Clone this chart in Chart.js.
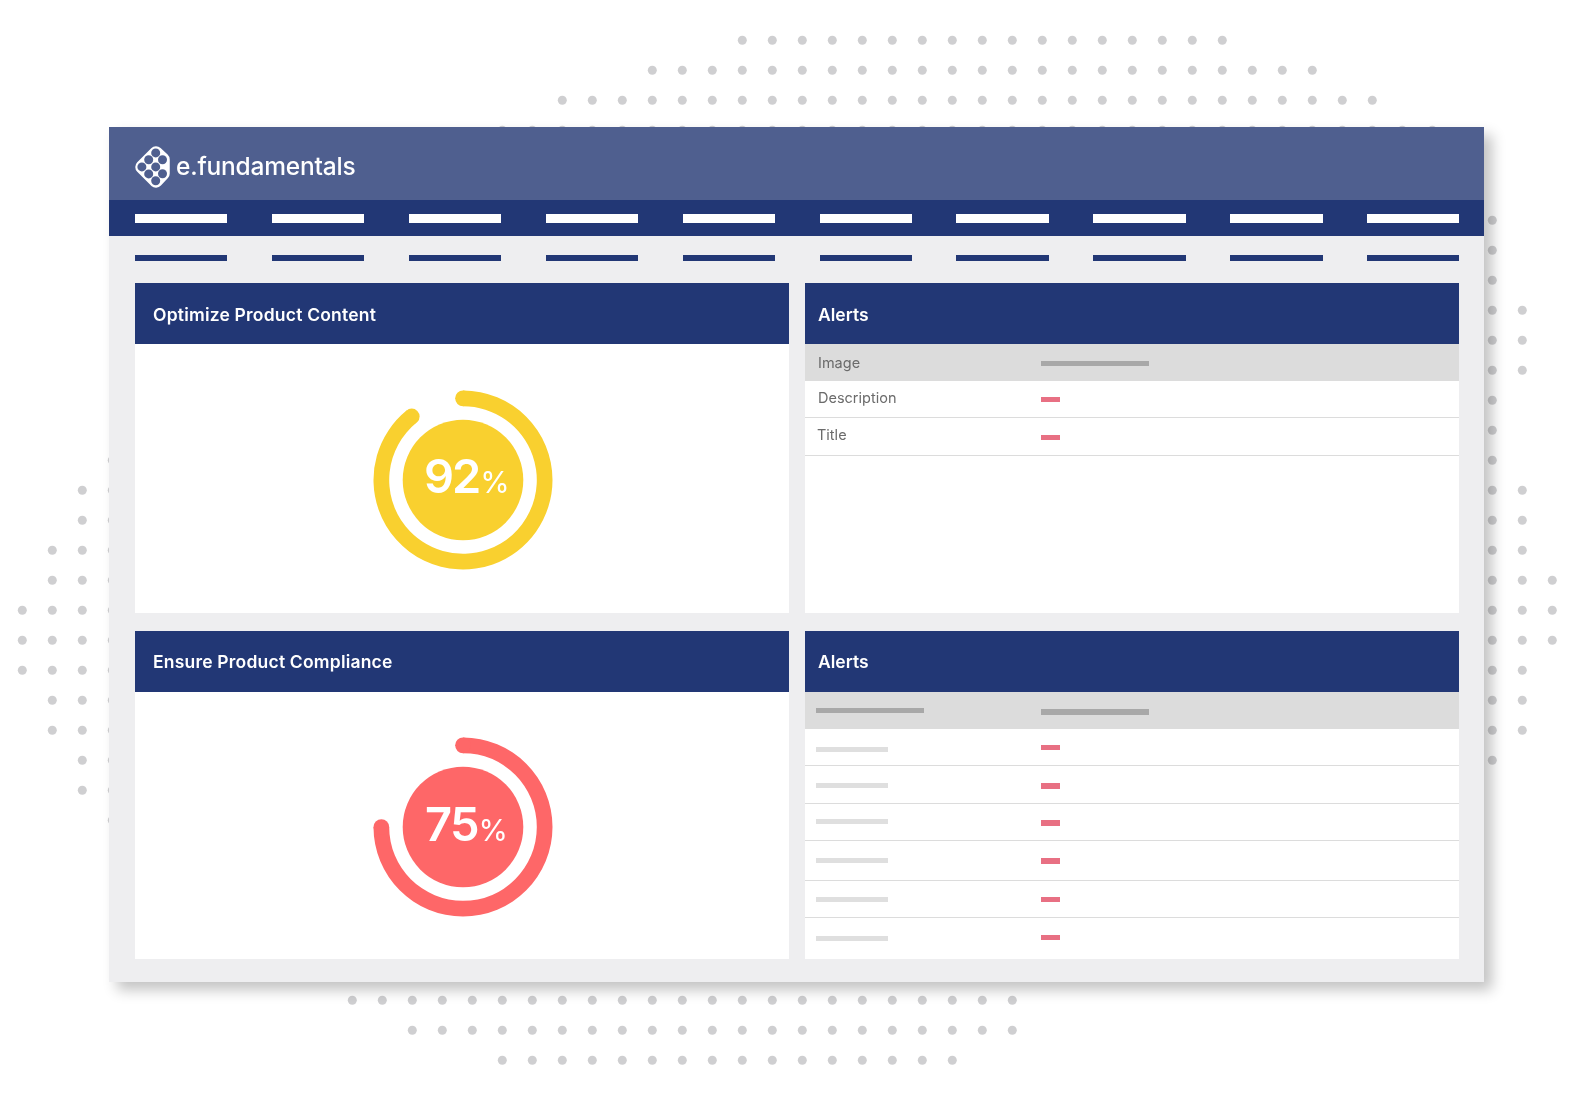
<!DOCTYPE html>
<html>
<head>
<meta charset="utf-8">
<title>e.fundamentals dashboard</title>
<script src="https://cdn.jsdelivr.net/npm/chart.js@4/dist/chart.umd.min.js"></script>
<style>
  html, body { margin: 0; padding: 0; background: #fff; width: 1575px; height: 1101px; overflow: hidden; }
  body { position: relative; font-family: Inter, "Open Sans", sans-serif; }
  #dots { position: absolute; left: 0; top: 0; z-index: 0; }
  #panel { position: absolute; left: 109px; top: 127px; width: 1374.5px; height: 855px; background: #eeeef0;
           box-shadow: 8px 8px 13px rgba(0, 0, 0, 0.24); z-index: 1; }
  #page { position: absolute; left: 0; top: 0; width: 1575px; height: 1101px; z-index: 2; }
  #logo { z-index: 5; }
  .box { position: absolute; }
  .txt { position: absolute; line-height: 0; white-space: nowrap; }
  .gauge { position: absolute; width: 200px; height: 200px; }
</style>
</head>
<body>
<canvas id="dots" width="1575" height="1101"></canvas>
<div id="panel"></div>
<div id="page">
  <svg id="logo" class="box" style="left:128px;top:140px" width="50" height="55" viewBox="128 140 50 55">
    <polygon points="156,153 163,159.5 163,173.5 156,181 142,167" fill="#fff" stroke="#fff" stroke-width="13.5" stroke-linejoin="round"/>
    <g fill="#4f5f8f">
      <circle cx="155.7" cy="152.9" r="4.5"/><circle cx="148.7" cy="159.7" r="4.5"/><circle cx="162.5" cy="159.7" r="4.5"/>
      <circle cx="141.9" cy="166.9" r="4.5"/><circle cx="155.7" cy="166.9" r="4.5"/><circle cx="148.7" cy="173.9" r="4.5"/>
      <circle cx="162.5" cy="173.7" r="4.5"/><circle cx="155.7" cy="180.7" r="4.5"/>
    </g>
  </svg>
</div>
<script>
// decoration dots, in grid units: [row, first column, last column]
const topDotRows = [[0, 24, 40], [1, 21, 43], [2, 18, 45], [3, 16, 47]];
const bottomDotRows = [[32, 11, 33], [33, 13, 33], [34, 16, 31]];
// [column, first row, last row]
const leftDotCols = [[0, 19, 21], [1, 17, 23], [2, 15, 25], [3, 14, 26]];
const rightDotCols = [[49, 6, 24], [50, 9, 11], [50, 15, 23], [51, 18, 20]];

// gauges. The yellow arc stops short of its printed 92, so the sweep is kept apart from the label
const gaugeSweeps = [89.2, 75];
const gaugeLabels = ['92', '75'];
const gaugeColors = ['#f9d02f', '#fe6768'];

const cardTitles = ['Optimize Product Content', 'Ensure Product Compliance'];
const alertTitle = 'Alerts';
const alertRows = ['Image', 'Description', 'Title'];
const navCount = 10;

const page = document.getElementById('page');

const box = (x, y, w, h, color) => {
    const d = document.createElement('div');
    d.className = 'box';
    d.style.cssText = `left:${x}px;top:${y}px;width:${w}px;height:${h}px;background:${color}`;
    page.appendChild(d);
    return d;
};
// cy is the middle of the capitals
const label = (text, x, cy, size, weight, color, spacing = 0) => {
    const d = document.createElement('div');
    d.className = 'txt';
    d.textContent = text;
    d.style.cssText = `left:${x}px;top:${cy}px;font-size:${size}px;font-weight:${weight};color:${color};letter-spacing:${spacing}px`;
    page.appendChild(d);
};

const NAVY = '#223775';
const RED = '#e87083';
const DARK_BAR = '#a8a8a8';
const LIGHT_BAR = '#dfdfdf';
const ROW_LINE = '#dcdcdc';
const GREY_ROW = '#dcdcdc';

//! header
box(109, 127, 1374.5, 73, '#4f5f8f');
box(109, 200, 1374.5, 36, NAVY);
label('e.fundamentals', 176, 165.5, 24.5, 500, '#fff', -0.2);
for (let i = 0; i < navCount; i++) {
    box(135 + i * 136.9, 214, 92.4, 9, '#fff');
    box(135 + i * 136.9, 255, 92.4, 6, NAVY);
}

//! cards
box(135, 283, 653.5, 330, '#fff');
box(805, 283, 653.5, 330, '#fff');
box(135, 631, 653.5, 328, '#fff');
box(805, 631, 653.5, 328, '#fff');
box(135, 283, 653.5, 61, NAVY);
box(805, 283, 653.5, 61, NAVY);
box(135, 631, 653.5, 61, NAVY);
box(805, 631, 653.5, 61, NAVY);
label(cardTitles[0], 153, 314.6, 17.5, 600, '#fff', 0.2);
label(cardTitles[1], 153, 661.5, 17.5, 600, '#fff', 0.2);
label(alertTitle, 818, 314.6, 17.5, 600, '#fff');
label(alertTitle, 818, 661.5, 17.5, 600, '#fff');

//! top alerts table
box(805, 344, 653.5, 37, GREY_ROW);
box(1041, 361, 108, 5.3, DARK_BAR);
box(805, 417, 653.5, 1.3, ROW_LINE);
box(805, 455, 653.5, 1.3, ROW_LINE);
box(1041, 396.7, 19, 5.3, RED);
box(1041, 434.7, 19, 5.3, RED);
label(alertRows[0], 818, 362.7, 14.5, 400, '#6b6b6b');
label(alertRows[1], 818, 398, 14.5, 400, '#6b6b6b');
label(alertRows[2], 817, 434.7, 14.5, 400, '#6b6b6b');

//! bottom alerts table
box(805, 692, 653.5, 37, GREY_ROW);
box(816, 708, 108, 5.3, DARK_BAR);
box(1041, 709.3, 108, 5.3, DARK_BAR);
[765.2, 803.2, 840.2, 880.2, 917].forEach((y) => box(805, y, 653.5, 1.3, ROW_LINE));
[747, 783, 819, 858, 897, 936].forEach((y) => box(816, y, 72, 5, LIGHT_BAR));
[745, 783.3, 820.3, 858.3, 897, 934.7].forEach((y) => box(1041, y, 19, 5.3, RED));

//! dots chart, scales count grid cells and are laid so a cell is 30px
const dotPoints = [];
topDotRows.concat(bottomDotRows).forEach(([row, from, to]) => {
    for (let c = from; c <= to; c++) dotPoints.push({ x: c, y: row });
});
leftDotCols.concat(rightDotCols).forEach(([col, from, to]) => {
    for (let r = from; r <= to; r++) dotPoints.push({ x: col, y: r });
});
const xMin = -22.3 / 30;
const yMin = -40.3 / 30;
new Chart(document.getElementById('dots'), {
    type: 'scatter',
    data: { datasets: [{ data: dotPoints, backgroundColor: '#cfcfd1', borderWidth: 0, pointRadius: 4.5 }] },
    options: {
        responsive: false,
        animation: false,
        layout: { padding: 0, autoPadding: false },
        plugins: { legend: { display: false }, tooltip: { enabled: false } },
        scales: {
            x: { display: false, min: xMin, max: xMin + 1575 / 30 },
            y: { display: false, reverse: true, min: yMin, max: yMin + 1101 / 30 },
        },
    },
});

//! gauges
// round ends and the middle disc, taken from the arc the library laid out
const gaugeExtras = {
    id: 'gaugeExtras',
    afterDatasetsDraw(chart) {
        const arc = chart.getDatasetMeta(0).data[0];
        const { x, y, startAngle, endAngle, innerRadius, outerRadius } = arc;
        const mid = (innerRadius + outerRadius) / 2;
        const cap = (outerRadius - innerRadius) / 2;
        const ctx = chart.ctx;
        ctx.save();
        ctx.fillStyle = chart.data.datasets[0].backgroundColor[0];
        [startAngle, endAngle].forEach((a) => {
            ctx.beginPath();
            ctx.arc(x + mid * Math.cos(a), y + mid * Math.sin(a), cap, 0, Math.PI * 2);
            ctx.fill();
        });
        ctx.beginPath();
        ctx.arc(x, y, innerRadius - 13.5, 0, Math.PI * 2);
        ctx.fill();
        ctx.restore();
    },
};

const makeGauge = (i, cx, cy) => {
    const canvas = document.createElement('canvas');
    canvas.className = 'gauge';
    canvas.width = 200;
    canvas.height = 200;
    canvas.style.left = (cx - 100) + 'px';
    canvas.style.top = (cy - 100) + 'px';
    page.appendChild(canvas);
    new Chart(canvas, {
        type: 'doughnut',
        data: {
            labels: ['score', 'rest'],
            datasets: [{
                data: [gaugeSweeps[i], 100 - gaugeSweeps[i]],
                backgroundColor: [gaugeColors[i], 'rgba(0,0,0,0)'],
                borderWidth: 0,
            }],
        },
        options: {
            responsive: false,
            animation: false,
            radius: 89.5,
            cutout: '82.46%',
            plugins: { legend: { display: false }, tooltip: { enabled: false } },
        },
        plugins: [gaugeExtras],
    });
};
makeGauge(0, 462.8, 480.3);
makeGauge(1, 462.8, 826.5);

label(gaugeLabels[0], 424, 475.5, 47, 600, '#fff', -2);
label('%', 480.2, 482.3, 30, 400, '#fff');
label(gaugeLabels[1], 425, 823.8, 47, 600, '#fff', -1.5);
label('%', 478.5, 830, 30, 400, '#fff');
</script>
</body>
</html>
